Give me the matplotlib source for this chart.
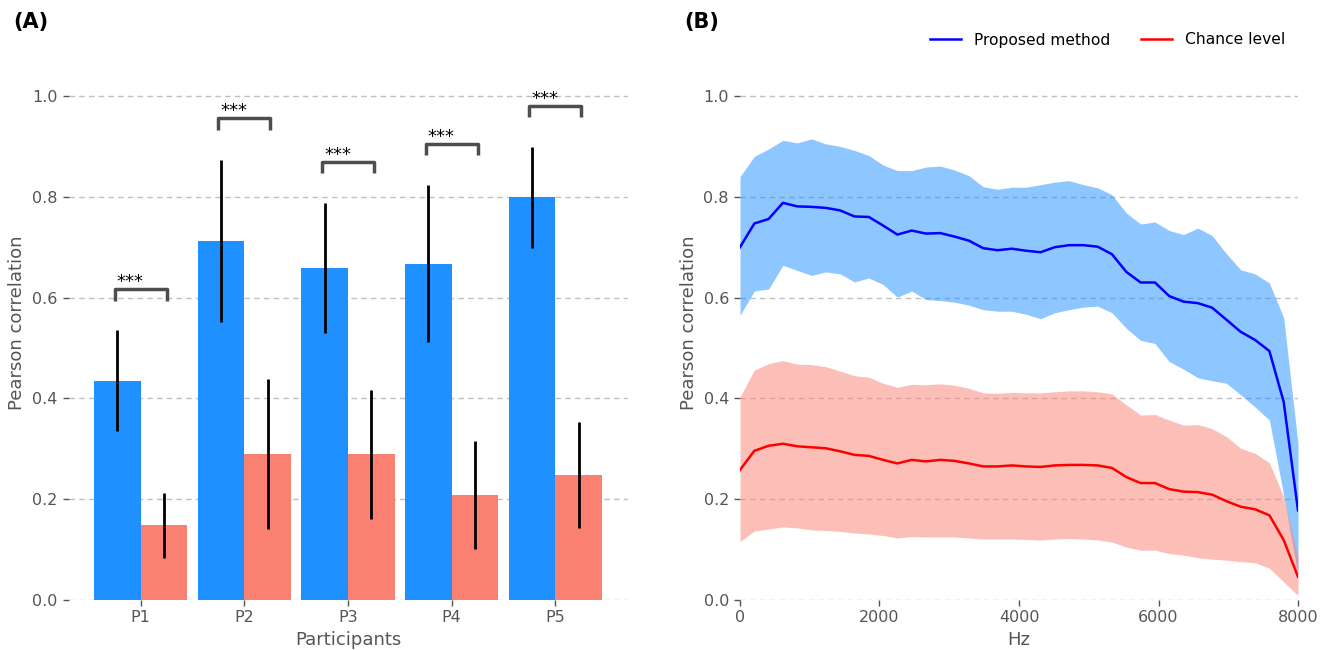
import numpy as np
import matplotlib
matplotlib.use("Agg")
import matplotlib.pyplot as plt

# ---------------- data ----------------
participants = ["P1", "P2", "P3", "P4", "P5"]
proposed = [0.435, 0.713, 0.659, 0.667, 0.799]
proposed_err = [0.100, 0.161, 0.129, 0.156, 0.100]
chance = [0.148, 0.289, 0.289, 0.209, 0.248]
chance_err = [0.065, 0.149, 0.128, 0.107, 0.106]
sig_labels = ["***", "***", "***", "***", "***"]

freqs = np.linspace(0, 8000, 40)
blue_mean = [0.700, 0.747, 0.756, 0.788, 0.781, 0.780, 0.778, 0.773, 0.761, 0.760,
             0.743, 0.725, 0.733, 0.727, 0.728, 0.721, 0.713, 0.698, 0.694, 0.697,
             0.693, 0.690, 0.700, 0.704, 0.704, 0.701, 0.686, 0.651, 0.630, 0.630,
             0.603, 0.592, 0.589, 0.580, 0.556, 0.532, 0.516, 0.494, 0.393, 0.178]
blue_upper = [0.840, 0.880, 0.895, 0.912, 0.907, 0.915, 0.905, 0.900, 0.892, 0.882,
              0.863, 0.852, 0.852, 0.859, 0.861, 0.853, 0.842, 0.820, 0.815, 0.819,
              0.819, 0.824, 0.829, 0.832, 0.824, 0.818, 0.804, 0.768, 0.746, 0.750,
              0.733, 0.725, 0.738, 0.723, 0.687, 0.655, 0.647, 0.629, 0.560, 0.310]
blue_lower = [0.565, 0.613, 0.617, 0.664, 0.654, 0.644, 0.651, 0.647, 0.631, 0.639,
              0.626, 0.601, 0.613, 0.596, 0.594, 0.591, 0.585, 0.576, 0.573, 0.573,
              0.567, 0.558, 0.570, 0.576, 0.581, 0.583, 0.570, 0.539, 0.515, 0.509,
              0.473, 0.458, 0.441, 0.435, 0.430, 0.407, 0.383, 0.357, 0.208, 0.050]
red_mean = [0.258, 0.296, 0.306, 0.310, 0.305, 0.303, 0.301, 0.295, 0.288, 0.286,
            0.278, 0.271, 0.278, 0.275, 0.278, 0.276, 0.271, 0.265, 0.265, 0.267,
            0.265, 0.264, 0.267, 0.268, 0.268, 0.267, 0.262, 0.244, 0.232, 0.232,
            0.220, 0.215, 0.214, 0.209, 0.196, 0.185, 0.180, 0.168, 0.119, 0.046]
red_upper = [0.403, 0.456, 0.469, 0.475, 0.468, 0.467, 0.463, 0.454, 0.445, 0.442,
             0.430, 0.422, 0.428, 0.427, 0.429, 0.426, 0.420, 0.411, 0.410, 0.412,
             0.411, 0.411, 0.413, 0.415, 0.415, 0.413, 0.409, 0.387, 0.367, 0.368,
             0.357, 0.347, 0.348, 0.340, 0.324, 0.301, 0.291, 0.272, 0.205, 0.085]
red_lower = [0.116, 0.137, 0.141, 0.145, 0.143, 0.139, 0.138, 0.136, 0.133, 0.131,
             0.128, 0.123, 0.126, 0.125, 0.125, 0.125, 0.123, 0.121, 0.121, 0.121,
             0.120, 0.119, 0.121, 0.122, 0.121, 0.119, 0.115, 0.105, 0.099, 0.099,
             0.092, 0.089, 0.084, 0.081, 0.079, 0.076, 0.074, 0.063, 0.036, 0.009]

# ---------------- style ----------------
plt.rcParams["font.family"] = ["DejaVu Sans"]
TXT = "#555555"
GRID = "#c0c0c0"

fig = plt.figure(figsize=(13.2, 6.5), dpi=100)
W, H = 1320, 650
axA = fig.add_axes([68.5 / W, 1 - 600 / H, 559 / W, 554.4 / H])
axB = fig.add_axes([740 / W, 1 - 600 / H, 558 / W, 554.4 / H])


def style(ax):
    for s in ax.spines.values():
        s.set_visible(False)
    ax.set_ylim(0, 1.1)
    ax.set_yticks([0.0, 0.2, 0.4, 0.6, 0.8, 1.0])
    ax.yaxis.grid(True, linestyle=(0, (4, 3)), color=GRID, linewidth=1.0)
    ax.xaxis.grid(False)
    ax.set_axisbelow(True)
    ax.tick_params(axis="both", colors=TXT, labelsize=11.5, length=4, width=1)
    ax.tick_params(axis="y", pad=4)
    ax.set_ylabel("Pearson correlation", fontsize=13, color=TXT)


# ---------------- panel A ----------------
x = np.arange(len(participants))
bw = 0.45
axA.bar(x - bw / 2, proposed, bw, color="#1E90FF", zorder=2)
axA.bar(x + bw / 2, chance, bw, color="#FA8072", zorder=2)
axA.errorbar(x - bw / 2, proposed, yerr=proposed_err, fmt="none", ecolor="black",
             elinewidth=2, capsize=0, zorder=3)
axA.errorbar(x + bw / 2, chance, yerr=chance_err, fmt="none", ecolor="black",
             elinewidth=2, capsize=0, zorder=3)
for i, lab in enumerate(sig_labels):
    top = proposed[i] + proposed_err[i] + 0.082
    axA.plot([i - 0.25, i - 0.25, i + 0.25, i + 0.25],
             [top - 0.023, top, top, top - 0.023], color="#4d4d4d", lw=2.5,
             solid_capstyle="butt", zorder=4)
    axA.text(i - 0.1, top + 0.004, lab, ha="center", va="baseline", fontsize=13,
             color="black")
style(axA)
axA.set_xticks(x)
axA.set_xticklabels(participants)
axA.set_xlabel("Participants", fontsize=13, color=TXT)

# ---------------- panel B ----------------
axB.fill_between(freqs, blue_lower, blue_upper, color="#1E90FF", alpha=0.5,
                 linewidth=0, zorder=2)
axB.fill_between(freqs, red_lower, red_upper, color="#FA8072", alpha=0.5,
                 linewidth=0, zorder=2)
axB.plot(freqs, blue_mean, color="blue", lw=1.8, label="Proposed method", zorder=3)
axB.plot(freqs, red_mean, color="red", lw=1.8, label="Chance level", zorder=3)
style(axB)
axB.set_xlim(0, 8000)
axB.set_xticks([0, 2000, 4000, 6000, 8000])
axB.set_xlabel("Hz", fontsize=13, color=TXT)
fig.legend(loc="center right", bbox_to_anchor=(1299 / W, 1 - 40 / H), ncol=2,
           frameon=False, fontsize=11.2, handlelength=2.0, columnspacing=2.0)

fig.text(13 / W, 1 - 22 / H, "(A)", fontsize=15, fontweight="bold", va="center")
fig.text(684 / W, 1 - 22 / H, "(B)", fontsize=15, fontweight="bold", va="center")

fig.savefig("out.png", dpi=100)
